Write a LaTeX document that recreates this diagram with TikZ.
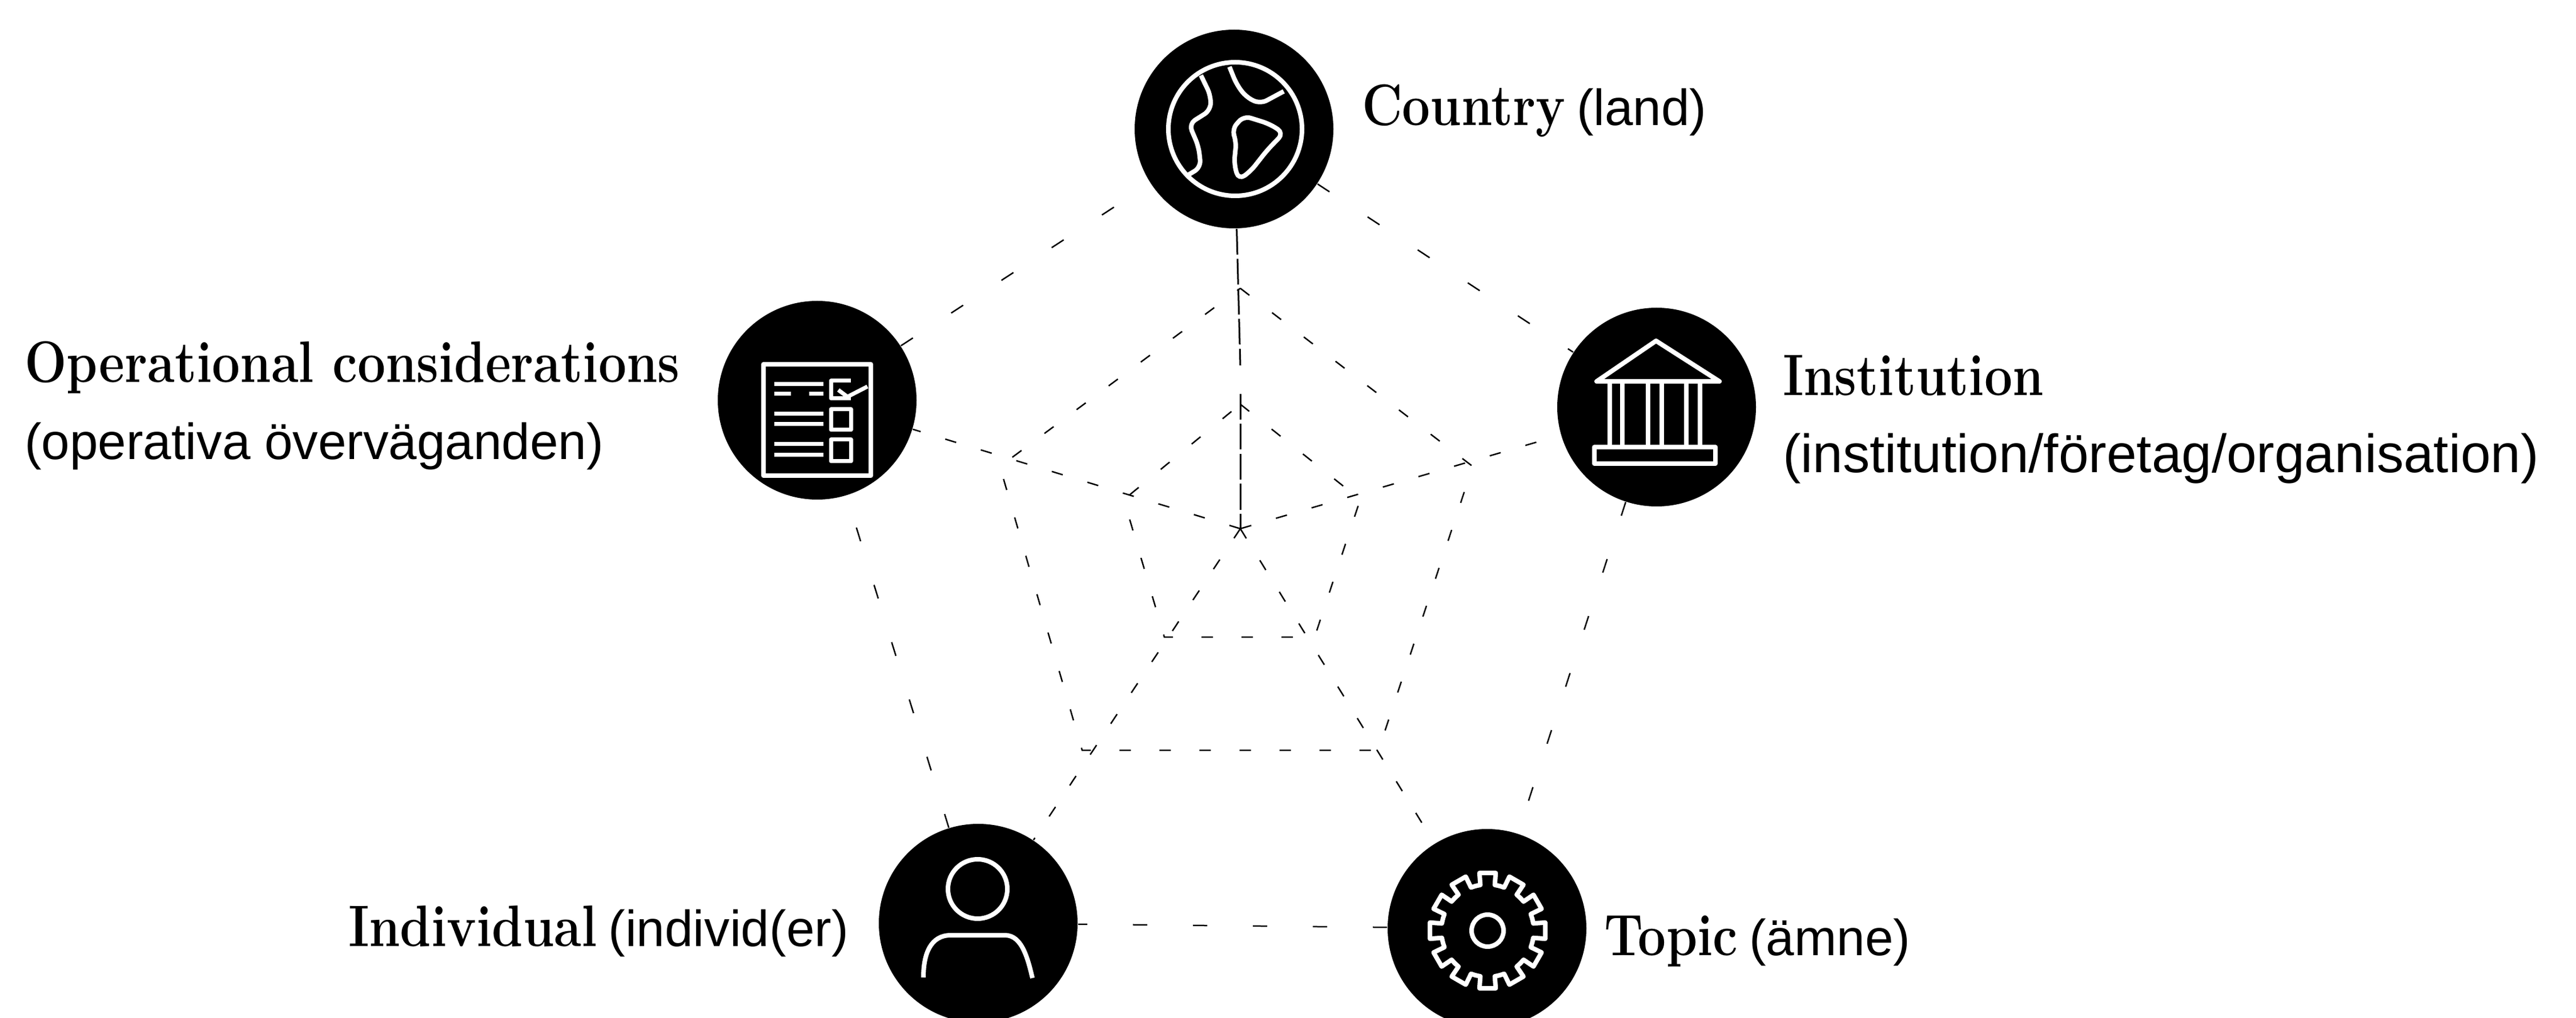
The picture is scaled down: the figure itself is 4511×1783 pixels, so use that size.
\documentclass[tikz,border=0pt]{standalone}
\usepackage{fontspec}
\setsansfont{Liberation Sans}
\newfontfamily\hdfont[FakeStretch=0.85]{Latin Modern Roman}
\tikzset{
  hub/.style={circle,fill=black,draw=none,minimum size=69.6pt,inner sep=0pt},
  outerring/.style={black,line width=0.5pt,dash pattern=on 5pt off 16pt},
  ring/.style={black,line width=0.5pt,dash pattern=on 4pt off 10pt},
  spoke/.style={black,line width=0.5pt,dash pattern=on 4pt off 9pt},
  axisline/.style={black,line width=0.6pt,dash pattern=on 9pt off 1.5pt},
  icon/.style={white,line width=1.6pt,line join=round},
  lbl/.style={anchor=base west,inner sep=0pt,outer sep=0pt,font=\fontsize{20.5}{24}\selectfont},
}
\newcommand{\hd}[1]{{\hdfont\bfseries #1}}
\newcommand{\gl}[1]{{\sffamily\fontsize{17.8}{24}\selectfont #1}}
\begin{document}
\begin{tikzpicture}[x=0.2pt,y=-0.2pt]
\useasboundingbox[fill=white] (0,0) rectangle (4511,1783);
% ring and centre coordinates
\coordinate (c) at (2172,926);
\coordinate (gapA) at (2172,640);
\coordinate (gapB) at (2172,690);
\coordinate (a1) at (2172,505);
\coordinate (a2) at (2579,817);
\coordinate (a3) at (2414,1314);
\coordinate (a4) at (1895,1314);
\coordinate (a5) at (1751,817);
\coordinate (b1) at (2172,708);
\coordinate (b2) at (2382,875);
\coordinate (b3) at (2302,1116);
\coordinate (b4) at (2039,1116);
\coordinate (b5) at (1968,875);
% hubs
\node[hub] (country) at (2161,226) {};
\node[hub] (oper) at (1431,701) {};
\node[hub] (inst) at (2901,713) {};
\node[hub] (indiv) at (1713,1617) {};
\node[hub] (topic) at (2604,1626) {};
% outer ring
\draw[outerring] (country) -- (inst);
\draw[outerring] (inst) -- (topic);
\draw[outerring] (topic) -- (indiv);
\draw[outerring] (indiv) -- (oper);
\draw[outerring] (oper) -- (country);
% rings
\draw[ring] (a1) -- (a2) -- (a3) -- (a4) -- (a5) -- cycle;
\draw[ring] (b1) -- (b2) -- (b3) -- (b4) -- (b5) -- cycle;
% spokes
\draw[axisline] (country) -- (gapA);
\draw[axisline] (gapB) -- (c);
\draw[spoke] (c) -- (oper);
\draw[spoke] (c) -- (inst);
\draw[spoke] (c) -- (indiv);
\draw[spoke] (c) -- (topic);
% globe
\draw[icon] (2163,226) circle (117);
\draw[icon,rounded corners=2.5pt] (2103,132) -- (2120,167) -- (2120,193) -- (2082,217) -- (2099,257) -- (2103,293) -- (2078,308);
\draw[icon,rounded corners=2.5pt] (2153,117) -- (2165,147) -- (2182,170) -- (2207,182) -- (2248,160);
\draw[icon,rounded corners=2.5pt] (2178,203) -- (2223,217) -- (2248,233) -- (2219,263) -- (2190,300) -- (2169,315) -- (2161,287) -- (2165,247) -- (2157,227) -- cycle;
% checklist
\draw[icon] (1337,638) rectangle (1525,833);
\draw[icon,line width=1.4pt] (1356,673) -- (1442,673) (1356,690) -- (1385,690) (1417,690) -- (1442,690);
\draw[icon,line width=1.4pt] (1356,725) -- (1442,725) (1356,743) -- (1442,743);
\draw[icon,line width=1.4pt] (1356,778) -- (1442,778) (1356,797) -- (1442,797);
\draw[icon,line width=1.4pt] (1490,667) -- (1455,667) -- (1455,698) -- (1490,698);
\draw[icon,line width=1.4pt] (1468,683) -- (1484,695) -- (1519,677);
\draw[icon,line width=1.4pt] (1455,717) rectangle (1490,753);
\draw[icon,line width=1.4pt] (1455,770) rectangle (1490,808);
% temple
\draw[icon] (2796,668) -- (2900,597) -- (3011,668) -- cycle;
\draw[icon] (2819,668) -- (2819,783) (2841,668) -- (2841,783) (2886,668) -- (2886,783) (2910,668) -- (2910,783) (2953,668) -- (2953,783) (2977,668) -- (2977,783);
\draw[icon] (2792,783) rectangle (3004,812);
% person
\draw[icon] (1712,1557) circle (52);
\draw[icon] (1617,1712) .. controls (1617,1670) and (1630,1638) .. (1665,1638) -- (1760,1638) .. controls (1790,1638) and (1800,1680) .. (1808,1713);
% gear
\begin{scope}[shift={(2605,1630)}]
\draw[icon] (0,0) circle (28);
\foreach \t in {0,30,...,330}{
  \draw[icon,line cap=round] (\t-15:81) -- (\t-9:81) -- (\t-8:102) -- (\t+8:102) -- (\t+9:81) -- (\t+15:81);
}
\end{scope}
% labels
\node[lbl] (lc) at (2385,220) {\hd{Country}\hspace{4pt}\gl{(land)}};
\node[lbl] (lo1) at (43,670) {\hd{Operational considerations}};
\node[lbl] (lo2) at (43,805) {\gl{(operativa överväganden)}};
\node[lbl] (li1) at (3122,693) {\hd{Institution}};
\node[lbl] (li2) at (3122,828) {\sffamily\fontsize{18.9}{24}\selectfont (institution/företag/organisation)};
\node[lbl] (ln) at (610,1657) {\hd{Individual}\hspace{4pt}\gl{(individ(er)}};
\node[lbl] (lt) at (2809,1673) {\hd{Topic}\hspace{4pt}\gl{(ämne)}};
\end{tikzpicture}
\end{document}
